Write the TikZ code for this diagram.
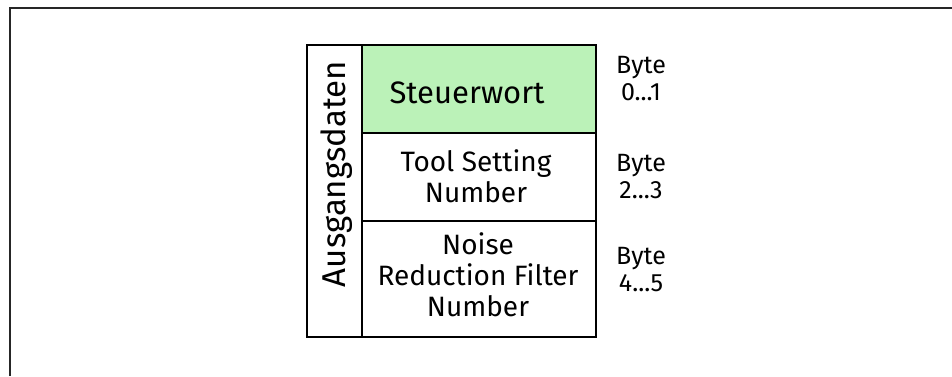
\documentclass[tikz,border=0pt]{standalone}
\usepackage{fontspec}
\setmainfont{Fira Sans}
\definecolor{boxgreen}{RGB}{187,242,184}
\begin{document}
\begin{tikzpicture}[x=1pt,y=-1pt,
  cell/.style={draw=black,line width=1.8pt,minimum width=234pt,inner sep=0pt},
  celltext/.style={align=center,inner sep=0pt,font=\fontsize{28}{31}\selectfont},
  bytelbl/.style={align=center,inner sep=0pt,font=\fontsize{25}{27}\selectfont}]
\useasboundingbox (0,0) rectangle (952,376);
\draw[line width=1.8pt,draw=black!85] (10,376) -- (10,8) -- (952,8);
\node[cell,minimum height=88pt,fill=boxgreen] (s) at (479,89) {};
\node[cell,minimum height=88pt] (t) at (479,177) {};
\node[cell,minimum height=116pt] (n) at (479,279) {};
\node[draw=black,line width=1.8pt,minimum width=55pt,minimum height=292pt,inner sep=0pt] (a) at (334.5,191) {};
\node[celltext,font=\fontsize{31}{33}\selectfont] (st) at (467,93) {Steuerwort};
\node[celltext] (tt) at (476,176) {Tool Setting\\Number};
\node[celltext] (nt) at (478,275) {Noise\\Reduction Filter\\Number};
\node[rotate=90,anchor=base,inner sep=0pt,font=\fontsize{33}{35}\selectfont] (al) at (345,174) {Ausgangsdaten};
\node[bytelbl] (b0) at (641,79) {Byte\\0...1};
\node[bytelbl] (b1) at (641,177) {Byte\\2...3};
\node[bytelbl] (b2) at (641,270) {Byte\\4...5};
\end{tikzpicture}
\end{document}
